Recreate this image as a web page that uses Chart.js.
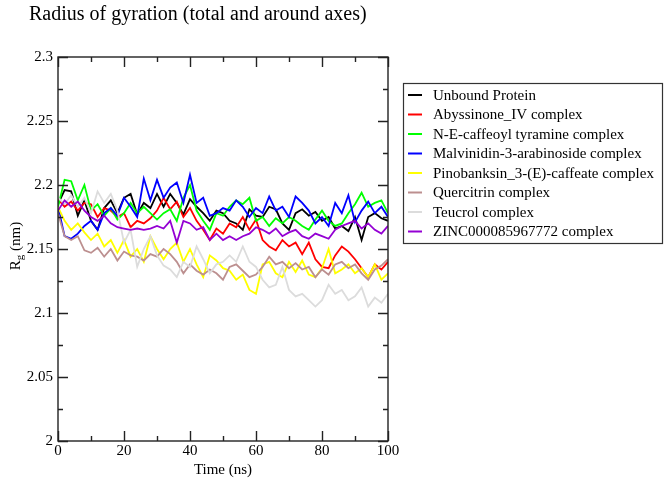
<!DOCTYPE html>
<html>
<head>
<meta charset="utf-8">
<script src="https://cdn.jsdelivr.net/npm/chart.js@4.4.1/dist/chart.umd.min.js"></script>
<style>
  html, body { margin: 0; padding: 0; background: #fff; }
  #wrap { width: 669px; height: 482px; }
</style>
</head>
<body>
<div id="wrap"><canvas id="rg" width="669" height="482"></canvas></div>
<script>
const chartTitle = 'Radius of gyration (total and around axes)';
const xTitle = 'Time (ns)';

const times = [0,2,4,6,8,10,12,14,16,18,20,22,24,26,28,30,32,34,36,38,40,42,44,46,48,50,
  52,54,56,58,60,62,64,66,68,70,72,74,76,78,80,82,84,86,88,90,92,94,96,98,100];

const unbound = [2.185,2.196,2.195,2.176,2.188,2.172,2.165,2.182,2.188,2.178,2.190,2.193,2.177,2.186,2.182,2.193,2.183,2.193,2.186,2.177,
  2.189,2.183,2.178,2.172,2.180,2.178,2.172,2.170,2.165,2.181,2.176,2.175,2.183,2.181,2.170,2.165,2.178,2.181,2.176,2.179,
  2.172,2.175,2.166,2.168,2.164,2.175,2.157,2.175,2.178,2.174,2.172];
const abyssinone = [2.189,2.183,2.187,2.180,2.186,2.185,2.175,2.182,2.180,2.175,2.178,2.167,2.172,2.170,2.174,2.180,2.190,2.181,2.187,2.175,
  2.182,2.172,2.165,2.157,2.166,2.162,2.170,2.167,2.175,2.165,2.173,2.157,2.152,2.149,2.157,2.152,2.155,2.146,2.155,2.142,
  2.136,2.135,2.145,2.152,2.148,2.142,2.135,2.128,2.138,2.134,2.140];
const caffeoyl = [2.183,2.204,2.203,2.188,2.200,2.180,2.185,2.176,2.182,2.173,2.178,2.186,2.178,2.183,2.178,2.173,2.178,2.181,2.172,2.190,
  2.200,2.180,2.172,2.165,2.178,2.176,2.183,2.188,2.185,2.190,2.172,2.175,2.168,2.174,2.170,2.175,2.172,2.168,2.165,2.173,
  2.180,2.172,2.168,2.170,2.178,2.185,2.194,2.183,2.186,2.188,2.178];
const malvinidin = [2.183,2.160,2.158,2.162,2.168,2.172,2.165,2.178,2.182,2.176,2.190,2.183,2.175,2.205,2.188,2.204,2.190,2.198,2.202,2.186,
  2.208,2.186,2.190,2.176,2.178,2.182,2.180,2.188,2.183,2.175,2.182,2.178,2.191,2.180,2.183,2.175,2.191,2.186,2.180,2.170,
  2.175,2.168,2.186,2.178,2.192,2.171,2.180,2.187,2.178,2.183,2.175];
const pinobanksin = [2.183,2.172,2.165,2.170,2.163,2.157,2.162,2.152,2.157,2.147,2.157,2.144,2.150,2.140,2.160,2.150,2.142,2.150,2.155,2.140,
  2.150,2.138,2.128,2.145,2.141,2.135,2.133,2.126,2.130,2.118,2.115,2.138,2.140,2.131,2.128,2.140,2.132,2.141,2.130,2.128,
  2.135,2.150,2.131,2.134,2.138,2.131,2.135,2.128,2.138,2.126,2.131];
const quercitrin = [2.178,2.160,2.157,2.160,2.149,2.147,2.151,2.144,2.150,2.141,2.148,2.145,2.144,2.141,2.146,2.144,2.150,2.146,2.140,2.131,
  2.138,2.133,2.130,2.134,2.131,2.126,2.136,2.138,2.133,2.128,2.130,2.136,2.144,2.138,2.140,2.135,2.139,2.134,2.136,2.128,
  2.134,2.130,2.138,2.140,2.135,2.138,2.131,2.126,2.134,2.137,2.142];
const teucrol = [2.190,2.185,2.192,2.183,2.190,2.178,2.195,2.186,2.193,2.180,2.155,2.165,2.136,2.150,2.160,2.145,2.137,2.134,2.128,2.140,
  2.136,2.152,2.142,2.131,2.138,2.140,2.145,2.140,2.152,2.140,2.136,2.126,2.120,2.122,2.136,2.118,2.113,2.115,2.110,2.105,
  2.110,2.122,2.115,2.118,2.110,2.113,2.120,2.105,2.112,2.108,2.115];
const zinc = [2.180,2.188,2.183,2.187,2.180,2.175,2.172,2.176,2.170,2.167,2.166,2.165,2.166,2.165,2.166,2.168,2.166,2.172,2.155,2.172,
  2.170,2.165,2.167,2.157,2.162,2.157,2.160,2.157,2.160,2.162,2.167,2.165,2.162,2.166,2.160,2.163,2.165,2.160,2.158,2.162,
  2.160,2.158,2.165,2.168,2.170,2.172,2.166,2.170,2.165,2.162,2.168];

const seriesNames = ['Unbound Protein', 'Abyssinone_IV complex', 'N-E-caffeoyl tyramine complex',
  'Malvinidin-3-arabinoside complex', 'Pinobanksin_3-(E)-caffeate complex', 'Quercitrin complex',
  'Teucrol complex', 'ZINC000085967772 complex'];
const seriesValues = [unbound, abyssinone, caffeoyl, malvinidin, pinobanksin, quercitrin, teucrol, zinc];
const seriesColors = ['#000000', '#ff0000', '#00ff00', '#0000ff', '#ffff00', '#bc8f8f', '#dcdcdc', '#9400d3'];

const xMajor = [0, 20, 40, 60, 80, 100];
const xMinor = [10, 30, 50, 70, 90];
const yMajor = [2, 2.05, 2.1, 2.15, 2.2, 2.25, 2.3];
const yMinor = [2.025, 2.075, 2.125, 2.175, 2.225, 2.275];
const yTickLabels = ['2', '2.05', '2.1', '2.15', '2.2', '2.25', '2.3'];

const serif = '"Liberation Serif", "Times New Roman", serif';

// frame, inward ticks, title, y label and boxed legend, xmgrace style
const gracePlot = {
  id: 'gracePlot',
  afterDatasetsDraw(chart) {
    const { ctx, chartArea: a, scales: { x, y } } = chart;
    ctx.save();
    ctx.strokeStyle = '#222';
    ctx.lineWidth = 1.4;
    ctx.strokeRect(a.left, a.top, a.right - a.left, a.bottom - a.top);

    ctx.beginPath();
    const xt = (vals, len) => vals.forEach(v => {
      const px = Math.round(x.getPixelForValue(v)) + 0.5;
      ctx.moveTo(px, a.bottom); ctx.lineTo(px, a.bottom - len);
      ctx.moveTo(px, a.top); ctx.lineTo(px, a.top + len);
    });
    const yt = (vals, len) => vals.forEach(v => {
      const py = Math.round(y.getPixelForValue(v)) + 0.5;
      ctx.moveTo(a.left, py); ctx.lineTo(a.left + len, py);
      ctx.moveTo(a.right, py); ctx.lineTo(a.right - len, py);
    });
    xt(xMajor, 10); xt(xMinor, 5);
    yt(yMajor, 10); yt(yMinor, 5);
    ctx.stroke();

    ctx.fillStyle = '#000';
    ctx.font = '20px ' + serif;
    ctx.textAlign = 'left';
    ctx.textBaseline = 'alphabetic';
    ctx.fillText(chartTitle, 29, 20);

    // Rg (nm), g as subscript
    ctx.save();
    ctx.translate(20, 246);
    ctx.rotate(-Math.PI / 2);
    ctx.font = '15px ' + serif;
    const wR = ctx.measureText('R').width;
    const wRest = ctx.measureText(' (nm)').width;
    ctx.font = '11px ' + serif;
    const wg = ctx.measureText('g').width;
    let u = -(wR + wg + wRest) / 2;
    ctx.font = '15px ' + serif;
    ctx.fillText('R', u, 0);
    ctx.font = '11px ' + serif;
    ctx.fillText('g', u + wR, 3);
    ctx.font = '15px ' + serif;
    ctx.fillText(' (nm)', u + wR + wg, 0);
    ctx.restore();

    // legend box
    ctx.strokeStyle = '#333';
    ctx.lineWidth = 1.2;
    ctx.strokeRect(403.5, 83.5, 259, 160);
    ctx.font = '15px ' + serif;
    ctx.textBaseline = 'middle';
    chart.data.datasets.forEach((ds, i) => {
      const cy = 95 + i * 19.5;
      ctx.strokeStyle = ds.borderColor;
      ctx.lineWidth = 2;
      ctx.beginPath();
      ctx.moveTo(408, cy); ctx.lineTo(422, cy);
      ctx.stroke();
      ctx.fillText(ds.label, 433, cy + 1);
    });
    ctx.restore();
  }
};

new Chart(document.getElementById('rg'), {
  type: 'line',
  data: {
    labels: times,
    datasets: seriesNames.map((name, i) => ({
      label: name,
      data: times.map((t, k) => ({ x: t, y: seriesValues[i][k] })),
      borderColor: seriesColors[i],
      borderWidth: 1.8,
      pointRadius: 0,
      tension: 0,
      fill: false,
      order: seriesNames.length - i
    }))
  },
  options: {
    responsive: false,
    animation: false,
    layout: { padding: { left: 0, top: 57, right: 281, bottom: 0 } },
    plugins: { legend: { display: false }, title: { display: false }, tooltip: { enabled: false } },
    scales: {
      x: {
        type: 'linear',
        min: 0,
        max: 100,
        grid: { display: false, drawTicks: false },
        border: { display: false },
        afterBuildTicks: s => { s.ticks = xMajor.map(v => ({ value: v })); },
        afterFit: s => { s.height = 41; s.paddingLeft = 0; s.paddingRight = 0; },
        ticks: { color: '#000', font: { family: serif, size: 15 }, padding: 1, maxRotation: 0 },
        title: { display: true, text: xTitle, color: '#000', font: { family: serif, size: 15 }, padding: { top: 0, bottom: 3 } }
      },
      y: {
        min: 2,
        max: 2.3,
        grid: { display: false, drawTicks: false },
        border: { display: false },
        afterBuildTicks: s => { s.ticks = yMajor.map(v => ({ value: v })); },
        afterFit: s => { s.width = 58; s.paddingTop = 0; s.paddingBottom = 0; },
        ticks: {
          color: '#000',
          font: { family: serif, size: 15 },
          padding: 5,
          callback: (v, i) => yTickLabels[i]
        }
      }
    }
  },
  plugins: [gracePlot]
});
</script>
</body>
</html>
